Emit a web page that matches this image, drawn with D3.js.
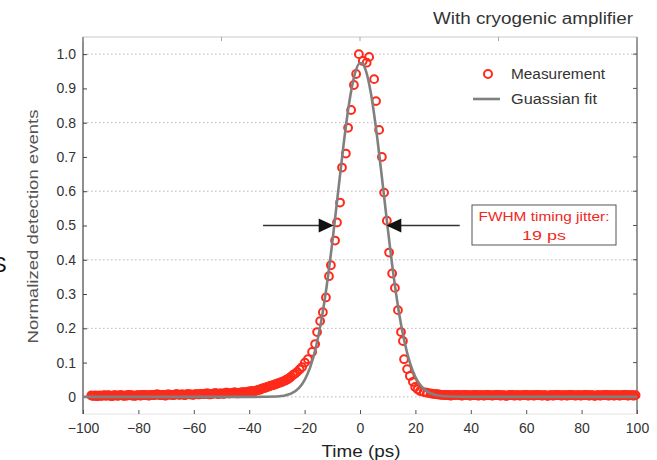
<!DOCTYPE html>
<html>
<head>
<meta charset="utf-8">
<script src="https://cdn.jsdelivr.net/npm/d3@7/dist/d3.min.js"></script>
<style>
  html, body { margin: 0; padding: 0; background: #fff; }
  svg { display: block; font-family: "Liberation Sans", Arial, sans-serif; }
</style>
</head>
<body>
<svg id="chart" width="657" height="460"></svg>
<script>
// ---------------- data ----------------
const measTime = [
  -97,-96.5,-96,-95.5,-95,-94.5,-94,-93.5,-93,-92.5,
  -92,-91.5,-91,-90.5,-90,-89.5,-89,-88.5,-88,-87.5,
  -87,-86.5,-86,-85.5,-85,-84.5,-84,-83.5,-83,-82.5,
  -82,-81.5,-81,-80.5,-80,-79.5,-79,-78.5,-78,-77.5,
  -77,-76.5,-76,-75.5,-75,-74.5,-74,-73.5,-73,-72.5,
  -72,-71.5,-71,-70.5,-70,-69.5,-69,-68.5,-68,-67.5,
  -67,-66.5,-66,-65.5,-65,-64.5,-64,-63.5,-63,-62.5,
  -62,-61.5,-61,-60.5,-60,-59.5,-59,-58.5,-58,-57.5,
  -57,-56.5,-56,-55.5,-55,-54.5,-54,-53.5,-53,-52.5,
  -52,-51.5,-51,-50.5,-50,-49.5,-49,-48.5,-48,-47.5,
  -47,-46.5,-46,-45.5,-45,-44.5,-44,-43.5,-43,-42.5,
  -42,-41.5,-41,-40.5,-40,-39.5,-39,-38.5,-38,-37.5,
  -37,-36.5,-36,-35.5,
  -35,-34.5,-34,-33.5,-33,-32.5,-32,-31.5,-31,-30.5,-30,-29.5,-29,-28.5,-28,-27.5,
  -27,-26.5,-26,-25.5,-25,
  -24.2,-23.4,-22.7,-21.8,-20.9,-19.9,-18.8,-17.3,-16.2,-15.5,-14.4,-13.4,-12.3,
  -11.2,-10.5,-9.0,-8.3,-7.2,-6.5,-5.1,-4.3,-3.2,-2.2,-1.4,-0.4,1.0,2.4,3.3,
  5.1,5.8,6.9,7.9,8.7,9.7,10.5,11.6,12.6,13.7,14.8,15.5,15.9,17.0,18.0,19.1,19.9,
  20.8,21.7,23.0,24.2,25.5,26.2,27.0,27.5,
  28,28.5,29,29.5,30,30.5,31,31.5,32,32.5,
  33,33.5,34,34.5,35,35.5,36,36.5,37,37.5,
  38,38.5,39,39.5,40,40.5,41,41.5,42,42.5,
  43,43.5,44,44.5,45,45.5,46,46.5,47,47.5,
  48,48.5,49,49.5,50,50.5,51,51.5,52,52.5,
  53,53.5,54,54.5,55,55.5,56,56.5,57,57.5,
  58,58.5,59,59.5,60,60.5,61,61.5,62,62.5,
  63,63.5,64,64.5,65,65.5,66,66.5,67,67.5,
  68,68.5,69,69.5,70,70.5,71,71.5,72,72.5,
  73,73.5,74,74.5,75,75.5,76,76.5,77,77.5,
  78,78.5,79,79.5,80,80.5,81,81.5,82,82.5,
  83,83.5,84,84.5,85,85.5,86,86.5,87,87.5,
  88,88.5,89,89.5,90,90.5,91,91.5,92,92.5,
  93,93.5,94,94.5,95,95.5,96,96.5,97,97.5,
  98,98.5,99,99.5
];
const measValue = [
  0.004,0.003,0.003,0.004,0.002,0.003,0.004,0.003,0.003,0.005,
  0.004,0.003,0.005,0.004,0.003,0.002,0.004,0.005,0.004,0.003,
  0.004,0.005,0.005,0.003,0.003,0.004,0.004,0.006,0.005,0.004,
  0.004,0.003,0.003,0.005,0.005,0.004,0.004,0.006,0.006,0.005,
  0.005,0.004,0.004,0.006,0.006,0.005,0.005,0.007,0.007,0.005,
  0.005,0.006,0.006,0.004,0.004,0.007,0.007,0.006,0.006,0.005,
  0.005,0.008,0.008,0.006,0.006,0.007,0.007,0.005,0.005,0.008,
  0.008,0.007,0.007,0.006,0.006,0.008,0.008,0.007,0.007,0.009,
  0.009,0.008,0.008,0.010,0.010,0.007,0.007,0.009,0.009,0.011,
  0.011,0.008,0.008,0.010,0.010,0.009,0.009,0.012,0.012,0.010,
  0.010,0.011,0.011,0.013,0.013,0.010,0.010,0.012,0.012,0.014,
  0.014,0.013,0.013,0.015,0.015,0.017,0.017,0.016,0.016,0.019,
  0.019,0.021,0.021,0.024,
  0.025,0.026,0.027,0.029,0.030,0.032,0.033,0.034,0.035,0.037,0.038,0.040,0.041,0.043,0.044,0.046,
  0.048,0.050,0.052,0.055,0.058,
  0.064,0.068,0.073,0.080,0.087,0.100,0.110,0.131,0.154,0.189,0.221,0.247,0.290,
  0.352,0.384,0.456,0.509,0.567,0.669,0.710,0.785,0.837,0.910,0.942,1.000,0.980,0.975,0.992,
  0.927,0.863,0.779,0.700,0.596,0.514,0.421,0.360,0.318,0.253,0.189,0.163,0.110,0.081,0.061,0.044,0.029,
  0.022,0.017,0.014,0.012,0.010,0.009,0.008,0.008,
  0.007,0.007,0.006,0.006,0.006,0.005,0.005,0.006,0.006,0.004,
  0.004,0.005,0.005,0.006,0.006,0.005,0.005,0.004,0.004,0.006,
  0.006,0.005,0.005,0.004,0.004,0.005,0.005,0.006,0.006,0.004,
  0.004,0.005,0.005,0.004,0.004,0.006,0.006,0.005,0.005,0.004,
  0.004,0.005,0.005,0.006,0.006,0.004,0.004,0.005,0.005,0.003,
  0.003,0.005,0.005,0.006,0.006,0.004,0.004,0.005,0.005,0.004,
  0.004,0.005,0.005,0.006,0.006,0.004,0.004,0.005,0.005,0.004,
  0.004,0.006,0.006,0.005,0.005,0.004,0.004,0.005,0.005,0.003,
  0.003,0.005,0.005,0.004,0.004,0.006,0.006,0.005,0.005,0.004,
  0.004,0.005,0.005,0.004,0.004,0.006,0.006,0.005,0.005,0.004,
  0.004,0.005,0.005,0.004,0.004,0.005,0.005,0.006,0.006,0.004,
  0.004,0.005,0.005,0.003,0.003,0.005,0.005,0.004,0.004,0.005,
  0.005,0.006,0.006,0.004,0.004,0.005,0.005,0.004,0.004,0.005,
  0.005,0.004,0.004,0.005,0.005,0.006,0.006,0.004,0.004,0.005,
  0.005,0.004,0.004,0.005
];

const fitTime  = [-100,-40,-30,-25,-22,-20,-18,-16,-14,-12,-10,-8,-6,-4,-2,0,1,2,4,6,8,10,12,14,16,18,20,22,25,30,40,100];
const fitValue = [0,0,0.001,0.009,0.026,0.049,0.086,0.142,0.221,0.325,0.451,0.591,0.731,0.853,0.938,0.974,0.972,0.955,0.883,0.770,0.634,0.493,0.361,0.250,0.163,0.100,0.058,0.032,0.012,0.002,0,0];

const xTicks = [-100,-80,-60,-40,-20,0,20,40,60,80,100];
const xTickLabels = ["\u2212100","\u221280","\u221260","\u221240","\u221220","0","20","40","60","80","100"];
const yTicks = [0,0.1,0.2,0.3,0.4,0.5,0.6,0.7,0.8,0.9,1.0];
const yTickLabels = ["0","0.1","0.2","0.3","0.4","0.5","0.6","0.7","0.8","0.9","1.0"];
const yGrid = [0,0.2,0.4,0.6,0.8,1.0];
const topTicks = [-100,-50,0,50,100];

const titleText = "With cryogenic amplifier";
const xLabel = "Time (ps)";
const yLabel = "Normalized detection events";
const legendLabels = ["Measurement","Guassian fit"];
const annotLines = ["FWHM timing jitter:","19 ps"];
const fwhmHalf = [-9.5, 9.5];   // arrow tips (ps) at half maximum
const halfLevel = 0.5;

// ---------------- layout ----------------
const svg = d3.select("#chart");
const L = 83, R = 637, T = 37, B = 414;
const x = d3.scaleLinear().domain([-100, 100]).range([L, R]);
const y = d3.scaleLinear().domain([-0.05, 1.05]).range([B, T]);

const red = "#ff2a1a";
const gray = "#808080";
const txt = "#333";

// grid
svg.append("g").selectAll("line").data(yGrid).join("line")
  .attr("x1", L).attr("x2", R)
  .attr("y1", d => y(d)).attr("y2", d => y(d))
  .attr("stroke", "#b8b8b8").attr("stroke-width", 1)
  .attr("stroke-dasharray", "1.5,2.5");

// frame
svg.append("line").attr("x1", L).attr("x2", R).attr("y1", T).attr("y2", T)
  .attr("stroke", "#c8c8c8").attr("stroke-width", 1);
svg.append("line").attr("x1", L).attr("x2", R).attr("y1", B).attr("y2", B)
  .attr("stroke", "#e4e4e4").attr("stroke-width", 1);
svg.append("line").attr("x1", L).attr("x2", L).attr("y1", T).attr("y2", B)
  .attr("stroke", "#444").attr("stroke-width", 1.2);
svg.append("line").attr("x1", R).attr("x2", R).attr("y1", T).attr("y2", B)
  .attr("stroke", "#555").attr("stroke-width", 1.2);

// left axis
const yAxis = d3.axisLeft(y).tickValues(yTicks)
  .tickFormat((d, i) => yTickLabels[i]).tickSize(-4).tickPadding(7);
const gy = svg.append("g").attr("transform", `translate(${L},0)`).call(yAxis);
gy.select(".domain").remove();
gy.selectAll(".tick line").attr("stroke", "#444");
gy.selectAll(".tick text").attr("fill", txt).attr("font-size", 14)
  .attr("font-family", "Liberation Sans, Arial, sans-serif");

// right ticks
svg.append("g").selectAll("line").data(yTicks).join("line")
  .attr("x1", R - 4).attr("x2", R)
  .attr("y1", d => y(d)).attr("y2", d => y(d))
  .attr("stroke", "#555");

// bottom axis
const xAxis = d3.axisBottom(x).tickValues(xTicks)
  .tickFormat((d, i) => xTickLabels[i]).tickSize(-4).tickPadding(9);
const gx = svg.append("g").attr("transform", `translate(0,${B})`).call(xAxis);
gx.select(".domain").remove();
gx.selectAll(".tick line").attr("stroke", "#555");
gx.selectAll(".tick text").attr("fill", txt).attr("font-size", 14)
  .attr("font-family", "Liberation Sans, Arial, sans-serif");

// top ticks
svg.append("g").selectAll("line").data(topTicks).join("line")
  .attr("x1", d => x(d)).attr("x2", d => x(d))
  .attr("y1", T).attr("y2", T + 4)
  .attr("stroke", "#aaa");

// measurements
const meas = measTime.map((t, i) => ({t, v: measValue[i]}));
svg.append("g").selectAll("circle").data(meas).join("circle")
  .attr("cx", d => x(d.t)).attr("cy", d => y(d.v)).attr("r", 3.9)
  .attr("fill", "none").attr("stroke", red).attr("stroke-width", 2);

// gaussian fit
const fit = fitTime.map((t, i) => ({t, v: fitValue[i]}));
svg.append("path").datum(fit)
  .attr("d", d3.line().x(d => x(d.t)).y(d => y(d.v)).curve(d3.curveMonotoneX))
  .attr("fill", "none").attr("stroke", gray).attr("stroke-width", 2.6);

// legend
svg.append("circle").attr("cx", 488).attr("cy", 74).attr("r", 4)
  .attr("fill", "none").attr("stroke", red).attr("stroke-width", 2);
svg.append("line").attr("x1", 473).attr("x2", 500).attr("y1", 99).attr("y2", 99)
  .attr("stroke", gray).attr("stroke-width", 2.6);
const legendLen = [94, 86];
svg.append("g").selectAll("text").data(legendLabels).join("text")
  .attr("x", 511).attr("y", (d, i) => 74 + i * 25).attr("dy", "0.35em")
  .attr("font-size", 14).attr("fill", txt)
  .attr("textLength", (d, i) => legendLen[i]).attr("lengthAdjust", "spacingAndGlyphs")
  .text(d => d);

// FWHM arrows
const ay = y(halfLevel);
function arrow(tipX, tailX) {
  const dir = Math.sign(tipX - tailX);
  svg.append("line").attr("x1", tailX).attr("x2", tipX - dir * 12)
    .attr("y1", ay).attr("y2", ay).attr("stroke", "#333").attr("stroke-width", 1.6);
  svg.append("path")
    .attr("d", `M${tipX},${ay} L${tipX - dir * 15},${ay - 7} L${tipX - dir * 15},${ay + 7} Z`)
    .attr("fill", "#111");
}
arrow(x(fwhmHalf[0]), x(-35));
arrow(x(fwhmHalf[1]), x(36));

// annotation box
svg.append("rect").attr("x", 472).attr("y", 205).attr("width", 144).attr("height", 40)
  .attr("fill", "#fff").attr("stroke", "#555").attr("stroke-width", 1);
const annotLen = [131, 44];
svg.append("g").selectAll("text").data(annotLines).join("text")
  .attr("x", 544).attr("y", (d, i) => 216 + i * 19).attr("dy", "0.35em")
  .attr("text-anchor", "middle").attr("font-size", 13.5).attr("fill", "#f0281c")
  .attr("textLength", (d, i) => annotLen[i]).attr("lengthAdjust", "spacingAndGlyphs")
  .text(d => d);

// title
svg.append("text").attr("x", 633).attr("y", 18).attr("dy", "0.35em")
  .attr("text-anchor", "end").attr("font-size", 16).attr("fill", "#333")
  .attr("textLength", 200).attr("lengthAdjust", "spacingAndGlyphs").text(titleText);

// axis labels
svg.append("text").attr("x", (L + R) / 2 + 1).attr("y", 451).attr("dy", "0.35em")
  .attr("text-anchor", "middle").attr("font-size", 16.5).attr("fill", "#222")
  .attr("textLength", 79).attr("lengthAdjust", "spacingAndGlyphs").text(xLabel);
svg.append("text").attr("transform", `translate(33,${(T + B) / 2 + 1}) rotate(-90)`)
  .attr("dy", "0.35em").attr("text-anchor", "middle").attr("font-size", 15)
  .attr("fill", "#555").attr("textLength", 234).attr("lengthAdjust", "spacingAndGlyphs")
  .text(yLabel);

// stray glyph at left edge of the source image
svg.append("text").attr("x", -8).attr("y", 272).attr("font-size", 22)
  .attr("fill", "#111").text("S");
</script>
</body>
</html>
